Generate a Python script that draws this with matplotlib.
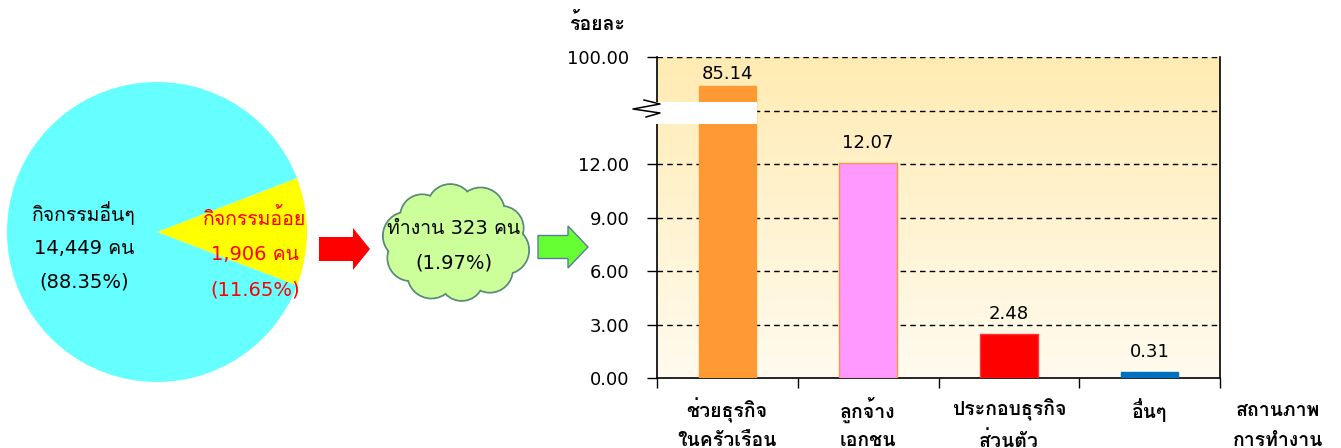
import numpy as np
import matplotlib
matplotlib.use('Agg')
import matplotlib.pyplot as plt
from matplotlib.patches import Circle, FancyArrow, Rectangle
from matplotlib.colors import LinearSegmentedColormap

plt.rcParams['font.family'] = ['DejaVu Sans', 'Loma']

# pie data
pie_labels = ['กิจกรรมอ้อย', 'กิจกรรมอื่นๆ']
pie_people = [1906, 14449]
pie_pct = [11.65, 88.35]
pie_colors = ['#FFFF00', '#66FFFF']

# working people
work_people = 323
work_pct = 1.97

# bar data
categories = ['ช่วยธุรกิจ\nในครัวเรือน', 'ลูกจ้าง\nเอกชน', 'ประกอบธุรกิจ\nส่วนตัว', 'อื่นๆ']
values = [85.14, 12.07, 2.48, 0.31]
bar_colors = ['#FF9933', '#FF99FF', '#FF0000', '#0070C0']
bar_edges = ['#FF9933', '#F79646', '#FF3333', '#0070C0']
yticks = [0, 3, 6, 9, 12, 100]

W, H = 1341, 448
fig = plt.figure(figsize=(W / 100, H / 100), dpi=100)

# ---- pie ----
axp = fig.add_axes([7 / W, (H - 382) / H, 300 / W, 300 / H])
axp.pie(pie_people, colors=pie_colors, startangle=-20.9, counterclock=True,
        wedgeprops=dict(linewidth=0))
axp.set_xlim(-1, 1)
axp.set_ylim(-1, 1)
axp.set_aspect('equal')

# ---- bar chart (broken axis: 0-15 linear, then squeezed up to 100) ----
def fwd(v):
    v = np.asarray(v, dtype=float)
    t = np.clip((v - 15) / 85, 0, None)
    return np.where(v <= 15, v, 15 + 3 * t ** 4)

def inv(y):
    y = np.asarray(y, dtype=float)
    t = np.clip((y - 15) / 3, 0, None)
    return np.where(y <= 15, y, 15 + 85 * t ** 0.25)

axb = fig.add_axes([657 / W, (H - 378) / H, 563 / W, 321 / H])
axb.set_yscale('function', functions=(fwd, inv))
axb.set_ylim(0, 100)
axb.set_xlim(-0.5, 3.5)

grad = np.linspace(0, 1, 256).reshape(-1, 1)
cmap = LinearSegmentedColormap.from_list('bg', ['#FFFBEE', '#FFEBB3'])
axb.imshow(grad, aspect='auto', cmap=cmap, origin='lower', extent=[0, 1, 0, 1],
           transform=axb.transAxes, zorder=0)

x = np.arange(len(values))
bars = axb.bar(x, values, width=0.41, color=bar_colors, edgecolor=bar_edges,
               linewidth=1, zorder=3)
for xi, v in zip(x, values):
    off = 2 if v > 15 else 8
    axb.annotate(f'{v:.2f}', (xi, v), xytext=(0, off), textcoords='offset points',
                 ha='center', va='bottom', fontsize=13, zorder=6)

for g in [3, 6, 9, 12, 15, 100]:
    axb.axhline(g, color='black', lw=1, ls=(0, (4, 3)), zorder=2)

axb.set_yticks(yticks)
axb.set_yticklabels([f'{t:.2f}' for t in yticks], fontsize=13)
axb.set_xticks([-0.5, 0.5, 1.5, 2.5, 3.5])
axb.set_xticklabels([])
axb.tick_params(axis='both', direction='out', length=7, width=1, color='black')
axb.tick_params(axis='y', pad=13)
axb.spines['top'].set_visible(False)
for s in ['left', 'right', 'bottom']:
    axb.spines[s].set_linewidth(1.2)

# break band
axb.add_patch(Rectangle((-0.02, 0.791), 0.198, 0.069, transform=axb.transAxes,
                        facecolor='white', edgecolor='none', zorder=5, clip_on=False))

# overlay in pixel coords
ov = fig.add_axes([0, 0, 1, 1], facecolor='none')
ov.set_xlim(0, W)
ov.set_ylim(H, 0)
ov.axis('off')

zz = np.array([[644, 100], [660, 104], [633, 109], [660, 113], [646, 117]])
ov.plot(zz[:, 0], zz[:, 1], color='black', lw=1.1)

for i, cat in enumerate(categories):
    cx = 727 + i * 141
    for j, line in enumerate(cat.split('\n')):
        ov.text(cx, 410 + j * 31, line, ha='center', va='center',
                fontsize=14, fontweight='bold')
ov.text(1278, 410, 'สถานภาพ', ha='center', va='center', fontsize=14, fontweight='bold')
ov.text(1278, 441, 'การทำงาน', ha='center', va='center', fontsize=14, fontweight='bold')
ov.text(597, 24, 'ร้อยละ', ha='center', va='center', fontsize=14, fontweight='bold')

# pie labels
ov.text(84, 213, pie_labels[1], ha='center', va='center', fontsize=14)
ov.text(84, 248, f'{pie_people[1]:,} คน', ha='center', va='center', fontsize=14)
ov.text(84, 282, f'({pie_pct[1]:.2f}%)', ha='center', va='center', fontsize=14)
ov.text(255, 218, pie_labels[0], ha='center', va='center', fontsize=14, color='red')
ov.text(255, 254, f'{pie_people[0]:,} คน', ha='center', va='center', fontsize=14,
        color='red')
ov.text(255, 290, f'({pie_pct[0]:.2f}%)', ha='center', va='center', fontsize=14,
        color='red')

# arrows
ov.add_patch(FancyArrow(319, 249, 51, 0, width=24, head_width=42, head_length=17,
                        length_includes_head=True, color='#FF0000', lw=0))
ov.add_patch(FancyArrow(538, 247, 50, 0, width=23, head_width=42, head_length=20,
                        length_includes_head=True, facecolor='#66FF33',
                        edgecolor='#5B7B9A', lw=1))

# cloud
cx, cy = 456, 243
ang = np.linspace(0, 2 * np.pi, 11)[:-1] + 0.2
pts = [(cx + 50 * np.cos(a), cy + 36 * np.sin(a)) for a in ang]
rads = [24, 23, 22, 24, 23, 24, 22, 23, 24, 22]
for (px, py), r in zip(pts, rads):
    ov.add_patch(Circle((px, py), r, facecolor='#CCFF99', edgecolor='#5B8A7A', lw=1.5))
for (px, py), r in zip(pts, rads):
    ov.add_patch(Circle((px, py), r - 0.8, facecolor='#CCFF99', edgecolor='none'))
ov.add_patch(Circle((cx, cy), 50, facecolor='#CCFF99', edgecolor='none'))
ov.text(454, 229, f'ทำงาน {work_people} คน', ha='center', va='center', fontsize=14)
ov.text(454, 263, f'({work_pct:.2f}%)', ha='center', va='center', fontsize=14)

fig.savefig('out.png', dpi=100)
